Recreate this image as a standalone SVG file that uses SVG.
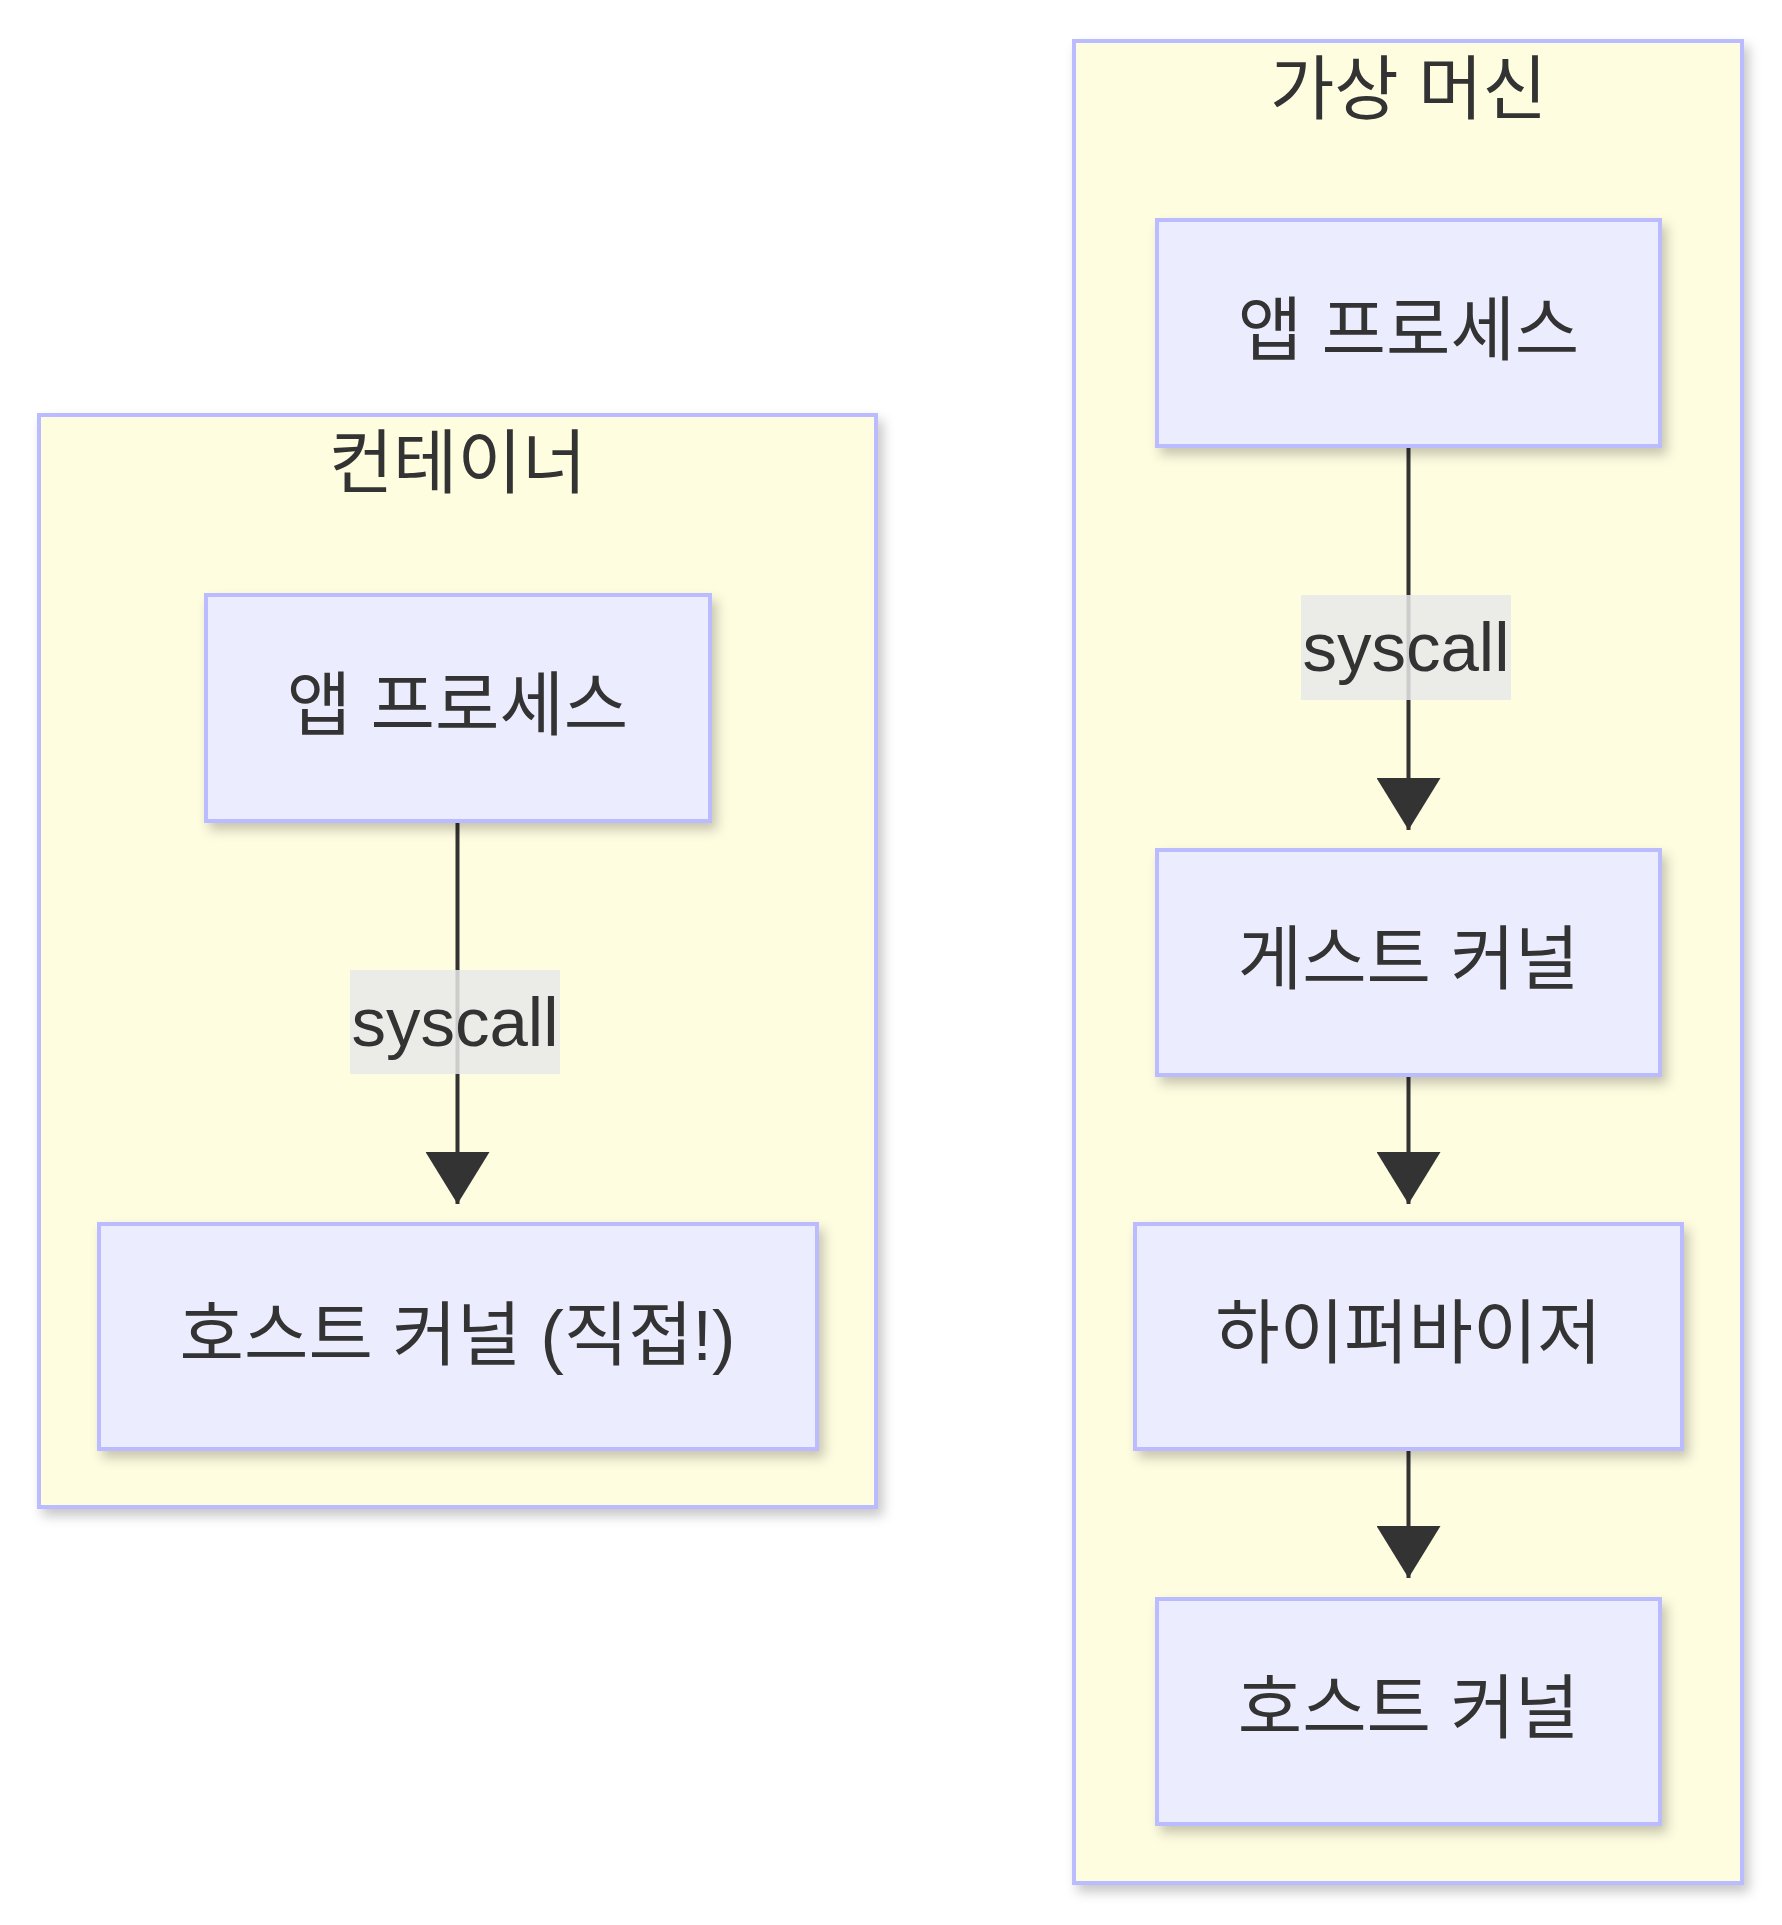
<svg xmlns="http://www.w3.org/2000/svg" width="1782" height="1925" viewBox="0 0 1782 1925">
<style>
.cluster{fill:#FFFDE0;stroke:#BBBBFF;stroke-width:4}
.node{fill:#ECECFF;stroke:#BBBBFF;stroke-width:4}
.t{font-family:"Liberation Sans","Noto Sans CJK KR",sans-serif;font-size:70px;fill:#333333;text-anchor:middle;dominant-baseline:central}
.lt{font-family:"Liberation Sans","Noto Sans CJK KR",sans-serif;font-size:69px;fill:#333333;text-anchor:middle;dominant-baseline:central}
.edge{stroke:#333333;stroke-width:4;fill:none}
.lbl{fill:#E8E8E8;fill-opacity:0.85}
</style>
<defs>
<filter id="sh" x="-10%" y="-10%" width="130%" height="130%">
<feDropShadow dx="5" dy="7" stdDeviation="6" flood-color="#000000" flood-opacity="0.22"/>
</filter>
<marker id="arr" viewBox="0 0 10 10" refX="10" refY="5" markerUnits="userSpaceOnUse" markerWidth="52" markerHeight="64" orient="auto" preserveAspectRatio="none">
<path d="M0,0 L10,5 L0,10 z" fill="#333333"/>
</marker>
</defs>
<rect width="1782" height="1925" fill="#FFFFFF"/>
<g id="cluster-container">
<rect class="cluster" x="39" y="415" width="837" height="1092" filter="url(#sh)"/>
<text class="t" x="457.5" y="464">컨테이너</text>
</g>
<g id="cluster-vm">
<rect class="cluster" x="1074" y="41" width="668" height="1842" filter="url(#sh)"/>
<text class="t" x="1408.5" y="90">가상 머신</text>
</g>
<g id="edges">
<path class="edge" d="M457.5,821 L457.5,1204" marker-end="url(#arr)"/>
<path class="edge" d="M1408.5,446 L1408.5,830" marker-end="url(#arr)"/>
<path class="edge" d="M1408.5,1075 L1408.5,1204" marker-end="url(#arr)"/>
<path class="edge" d="M1408.5,1449 L1408.5,1578" marker-end="url(#arr)"/>
<g id="label-1">
<rect class="lbl" x="350" y="970" width="210" height="104"/>
<text class="lt" x="455" y="1022">syscall</text>
</g>
<g id="label-2">
<rect class="lbl" x="1301" y="595" width="210" height="105"/>
<text class="lt" x="1406" y="647">syscall</text>
</g>
</g>
<g id="node-c-app">
<rect class="node" x="206" y="595" width="504" height="226" filter="url(#sh)"/>
<text class="t" x="457.5" y="706">앱 프로세스</text>
</g>
<g id="node-c-host">
<rect class="node" x="99" y="1224" width="718" height="225" filter="url(#sh)"/>
<text class="t" x="457.5" y="1336">호스트 커널 (직접!)</text>
</g>
<g id="node-vm-app">
<rect class="node" x="1157" y="220" width="503" height="226" filter="url(#sh)"/>
<text class="t" x="1408.5" y="331">앱 프로세스</text>
</g>
<g id="node-vm-guest">
<rect class="node" x="1157" y="850" width="503" height="225" filter="url(#sh)"/>
<text class="t" x="1408.5" y="960">게스트 커널</text>
</g>
<g id="node-vm-hyper">
<rect class="node" x="1135" y="1224" width="547" height="225" filter="url(#sh)"/>
<text class="t" x="1408.5" y="1334">하이퍼바이저</text>
</g>
<g id="node-vm-host">
<rect class="node" x="1157" y="1599" width="503" height="225" filter="url(#sh)"/>
<text class="t" x="1408.5" y="1709">호스트 커널</text>
</g>
</svg>
